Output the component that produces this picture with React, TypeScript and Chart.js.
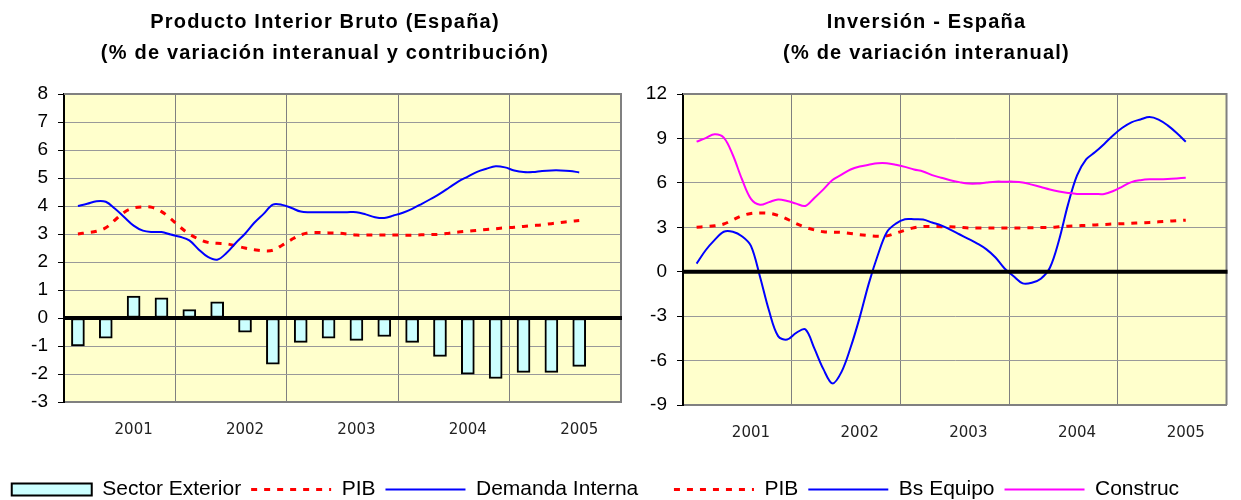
import React, { useEffect, useRef } from 'react';
import { Chart, registerables } from 'chart.js';

Chart.register(...registerables);

// ---- categories ----
const YEARS = ['2001', '2002', '2003', '2004', '2005'];
const MONTHS = ['01', '02', '03', '04', '05', '06', '07', '08', '09', '10', '11', '12'];
const FIRST_MONTH_INDEX = 1; // series start in Feb 2001 (middle month of 2001 Q1)
const YEAR_LABEL_MONTH = 7; // year label sits under August

// ---- titles ----
const LEFT_TITLE = ['Producto Interior Bruto (España)', '(% de variación interanual y contribución)'];
const RIGHT_TITLE = ['Inversión - España', '(% de variación interanual)'];

// ---- axis ranges ----
const LEFT_Y = { min: -3, max: 8, step: 1 };
const RIGHT_Y = { min: -9, max: 12, step: 3 };

// ---- series (quarterly bars, monthly lines) ----
const SECTOR_EXTERIOR = [
  -1.0, -0.72, 0.78, 0.72, 0.3, 0.58, -0.51, -1.65, -0.87, -0.72,
  -0.8, -0.66, -0.87, -1.37, -2.01, -2.16, -1.94, -1.94, -1.73,
];

const PIB = [
  3.0, 3.05, 3.1, 3.22, 3.5, 3.78, 3.93, 3.97, 3.95, 3.8,
  3.55, 3.25, 3.0, 2.82, 2.7, 2.67, 2.65, 2.58, 2.5, 2.44,
  2.4, 2.42, 2.6, 2.8, 2.97, 3.05, 3.05, 3.04, 3.03, 3.0,
  2.96, 2.96, 2.96, 2.96, 2.96, 2.96, 2.96, 2.97, 2.98, 2.99,
  3.03, 3.07, 3.1, 3.13, 3.16, 3.19, 3.22, 3.24, 3.27, 3.3,
  3.33, 3.37, 3.41, 3.45, 3.48,
];

const DEMANDA_INTERNA = [
  4.0, 4.08, 4.17, 4.15, 3.9, 3.6, 3.3, 3.12, 3.07, 3.07,
  2.98, 2.9, 2.77, 2.45, 2.18, 2.08, 2.32, 2.68, 3.01, 3.4,
  3.72, 4.05, 4.04, 3.93, 3.8, 3.78, 3.78, 3.78, 3.78, 3.78,
  3.78, 3.7, 3.6, 3.57, 3.66, 3.76, 3.9, 4.07, 4.25, 4.44,
  4.66, 4.88, 5.05, 5.22, 5.33, 5.42, 5.38, 5.27, 5.21, 5.21,
  5.25, 5.27, 5.27, 5.25, 5.2,
];

const BS_EQUIPO = [
  0.55, 1.45, 2.15, 2.7, 2.7, 2.4, 1.75, -0.34, -2.64, -4.35,
  -4.58, -4.13, -3.89, -5.18, -6.58, -7.54, -6.76, -5.12, -3.1, -0.82,
  1.11, 2.67, 3.25, 3.54, 3.54, 3.52, 3.32, 3.13, 2.84, 2.53,
  2.22, 1.9, 1.51, 0.96, 0.22, -0.31, -0.79, -0.75, -0.47, 0.27,
  2.11, 4.53, 6.5, 7.58, 8.08, 8.63, 9.22, 9.72, 10.09, 10.28,
  10.44, 10.27, 9.88, 9.37, 8.78,
];

const CONSTRUC = [
  8.78, 9.02, 9.28, 9.05, 7.88, 6.26, 4.92, 4.52, 4.7, 4.88,
  4.78, 4.6, 4.44, 4.98, 5.56, 6.19, 6.55, 6.9, 7.1, 7.22,
  7.32, 7.32, 7.22, 7.08, 6.9, 6.77, 6.52, 6.35, 6.18, 6.05,
  5.95, 5.95, 6.02, 6.08, 6.08, 6.08, 6.03, 5.88, 5.72, 5.55,
  5.42, 5.32, 5.25, 5.25, 5.25, 5.25, 5.45, 5.75, 6.05, 6.18,
  6.24, 6.24, 6.26, 6.3, 6.35,
];

// ---- helpers ----
const LABELS = YEARS.flatMap((y) => MONTHS.map((m) => `${y}-${m}`));
const monthly = (vals: number[]) =>
  LABELS.map((_, i) => {
    const k = i - FIRST_MONTH_INDEX;
    return k >= 0 && k < vals.length ? vals[k] : null;
  });
const quarterly = (vals: number[]) =>
  LABELS.map((_, i) => {
    const k = i - FIRST_MONTH_INDEX;
    return k >= 0 && k % 3 === 0 && k / 3 < vals.length ? vals[k / 3] : null;
  });

const FAMILY = '"Liberation Sans", Arial, sans-serif';
const X_FAMILY = '"DejaVu Sans", Verdana, sans-serif';
const CANVAS_H = 510;

const framePlugin = {
  id: 'excelFrame',
  afterLayout(chart: any) {
    const tb = chart.titleBlock;
    if (tb && !tb.__spaced) {
      const orig = tb.draw;
      tb.draw = function (...args: any[]) {
        const c = chart.ctx;
        c.save();
        try {
          (c as any).letterSpacing = '1.2px';
        } catch (e) {}
        orig.apply(this, args);
        c.restore();
      };
      tb.__spaced = true;
    }
  },
  beforeDraw(chart: any) {
    const { ctx, chartArea: a } = chart;
    ctx.save();
    ctx.fillStyle = '#FFFFCC';
    ctx.fillRect(a.left, a.top, a.right - a.left, a.bottom - a.top);
    ctx.restore();
  },
  beforeDatasetsDraw(chart: any) {
    const { ctx, chartArea: a } = chart;
    ctx.save();
    ctx.strokeStyle = '#808080';
    ctx.lineWidth = 2;
    ctx.beginPath();
    ctx.moveTo(a.left, a.top);
    ctx.lineTo(a.right, a.top);
    ctx.lineTo(a.right, a.bottom);
    ctx.stroke();
    ctx.restore();
  },
  afterDatasetsDraw(chart: any) {
    const { ctx, chartArea: a } = chart;
    const y0 = chart.scales.y.getPixelForValue(0);
    ctx.save();
    ctx.strokeStyle = '#000';
    ctx.lineWidth = 4;
    ctx.beginPath();
    ctx.moveTo(a.left, y0);
    ctx.lineTo(a.right + 1, y0);
    ctx.stroke();
    ctx.restore();
  },
};

const legendLabels = (chart: any) => {
  const items = Chart.defaults.plugins.legend.labels.generateLabels(chart);
  return items.map((it: any) => {
    const ds = chart.data.datasets[it.datasetIndex];
    return {
      ...it,
      lineDash: ds.borderDash || [],
      lineWidth: ds.borderWidth,
      strokeStyle: ds.borderColor,
      fillStyle: ds.backgroundColor,
    };
  });
};

function makeOptions(opts: {
  title: string[];
  yr: { min: number; max: number; step: number };
  yWidth: number;
  xHeight: number;
  rightWidth: number;
}) {
  return {
    responsive: false,
    maintainAspectRatio: false,
    animation: false,
    events: [],
    layout: { padding: 0 },
    plugins: {
      tooltip: { enabled: false },
      title: {
        display: true,
        text: opts.title,
        color: '#000',
        font: { family: FAMILY, size: 20, weight: 'bold', lineHeight: 1.55 },
        padding: { top: 7, bottom: 25 },
      },
      legend: {
        position: 'bottom',
        labels: {
          usePointStyle: true,
          pointStyleWidth: 80,
          boxHeight: 12,
          padding: 10,
          color: '#000',
          font: { family: FAMILY, size: 21 },
          generateLabels: legendLabels,
          sort: (a: any, b: any) => a.datasetIndex - b.datasetIndex,
        },
      },
    },
    scales: {
      x: {
        type: 'category',
        offset: true,
        grid: {
          offset: true,
          drawTicks: false,
          color: (c: any) => (c.index % 12 === 0 ? '#808080' : 'rgba(0,0,0,0)'),
          lineWidth: 1,
        },
        border: { color: '#808080', width: 2 },
        ticks: {
          autoSkip: false,
          maxRotation: 0,
          minRotation: 0,
          padding: 19,
          color: '#222',
          font: { family: X_FAMILY, size: 15 },
          callback: (_v: any, i: number) =>
            i % 12 === YEAR_LABEL_MONTH ? YEARS[Math.floor(i / 12)] : '',
        },
        afterFit: (s: any) => {
          s.height = opts.xHeight;
        },
      },
      y: {
        type: 'linear',
        position: 'left',
        min: opts.yr.min,
        max: opts.yr.max,
        grid: {
          color: (c: any) => (c.tick && c.tick.value === 0 ? '#000' : '#999999'),
          lineWidth: 1,
          drawTicks: true,
          tickLength: 6,
          tickColor: '#000',
        },
        border: { color: '#000', width: 2 },
        ticks: {
          stepSize: opts.yr.step,
          padding: 10,
          color: '#000',
          font: { family: FAMILY, size: 19 },
        },
        afterFit: (s: any) => {
          s.width = opts.yWidth;
        },
      },
      yR: {
        type: 'linear',
        position: 'right',
        display: true,
        grid: { display: false, drawTicks: false },
        border: { display: false },
        ticks: { display: false },
        afterFit: (s: any) => {
          s.width = opts.rightWidth;
        },
      },
    },
  };
}

function leftConfig(): any {
  return {
    type: 'bar',
    data: {
      labels: LABELS,
      datasets: [
        {
          type: 'bar',
          label: 'Sector Exterior',
          data: quarterly(SECTOR_EXTERIOR),
          backgroundColor: '#CCFFFF',
          borderColor: '#000',
          borderWidth: 2,
          borderSkipped: false,
          barThickness: 13,
          pointStyle: 'rect',
          order: 3,
        },
        {
          type: 'line',
          label: 'PIB',
          data: monthly(PIB),
          borderColor: '#FF0000',
          backgroundColor: '#FF0000',
          borderWidth: 3,
          borderDash: [6, 7],
          pointRadius: 0,
          tension: 0.35,
          pointStyle: 'line',
          order: 1,
        },
        {
          type: 'line',
          label: 'Demanda Interna',
          data: monthly(DEMANDA_INTERNA),
          borderColor: '#0000FF',
          backgroundColor: '#0000FF',
          borderWidth: 2,
          pointRadius: 0,
          tension: 0.35,
          pointStyle: 'line',
          order: 0,
        },
      ],
    },
    options: makeOptions({ title: LEFT_TITLE, yr: LEFT_Y, yWidth: 64, xHeight: 67, rightWidth: 29 }),
    plugins: [framePlugin],
  };
}

function rightConfig(): any {
  return {
    type: 'line',
    data: {
      labels: LABELS,
      datasets: [
        {
          label: 'PIB',
          data: monthly(PIB),
          borderColor: '#FF0000',
          backgroundColor: '#FF0000',
          borderWidth: 3,
          borderDash: [6, 7],
          pointRadius: 0,
          tension: 0.35,
          pointStyle: 'line',
          order: 2,
        },
        {
          label: 'Bs Equipo',
          data: monthly(BS_EQUIPO),
          borderColor: '#0000FF',
          backgroundColor: '#0000FF',
          borderWidth: 2,
          pointRadius: 0,
          tension: 0.35,
          pointStyle: 'line',
          order: 1,
        },
        {
          label: 'Construc',
          data: monthly(CONSTRUC),
          borderColor: '#FF00FF',
          backgroundColor: '#FF00FF',
          borderWidth: 2,
          pointRadius: 0,
          tension: 0.35,
          pointStyle: 'line',
          order: 0,
        },
      ],
    },
    options: makeOptions({ title: RIGHT_TITLE, yr: RIGHT_Y, yWidth: 71, xHeight: 64, rightWidth: 1 }),
    plugins: [framePlugin],
  };
}

function ChartCanvas({ make, left, width }: { make: () => any; left: number; width: number }) {
  const ref = useRef<HTMLCanvasElement | null>(null);
  useEffect(() => {
    if (!ref.current) return;
    const chart = new Chart(ref.current, make());
    return () => chart.destroy();
  }, []);
  return (
    <canvas
      ref={ref}
      width={width}
      height={CANVAS_H}
      style={{ position: 'absolute', left, top: 0, width, height: CANVAS_H, display: 'block' }}
    />
  );
}

export default function App() {
  return (
    <div
      style={{
        position: 'fixed',
        left: 0,
        top: 0,
        width: 1241,
        height: 500,
        overflow: 'hidden',
        background: '#fff',
      }}
    >
      <ChartCanvas make={leftConfig} left={0} width={650} />
      <ChartCanvas make={rightConfig} left={612} width={629} />
    </div>
  );
}
